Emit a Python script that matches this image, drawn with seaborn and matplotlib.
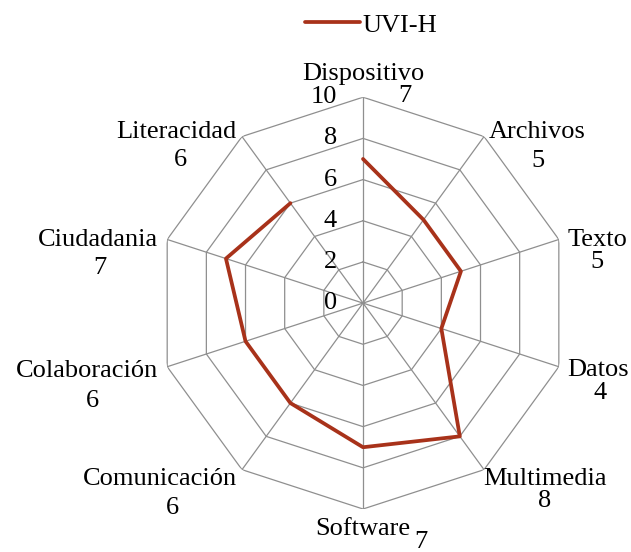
#!/usr/bin/env python3

import numpy as np
import pandas as pd
import matplotlib
matplotlib.use("Agg")
import matplotlib.pyplot as plt
import seaborn as sns

sns.set_theme(style="white")
plt.rcParams["font.family"] = ["Liberation Serif", "DejaVu Serif"]
plt.rcParams["text.color"] = "black"

categories = ["Dispositivo", "Archivos", "Texto", "Datos", "Multimedia",
              "Software", "Comunicación", "Colaboración", "Ciudadania", "Literacidad"]
uvi_h = [7, 5, 5, 4, 8, 7, 6, 6, 7, 6]
series_name = "UVI-H"
radial_ticks = [0, 2, 4, 6, 8, 10]

LINE_COLOR = "#a8321a"
GRID_COLOR = "#8f8f8f"
FS = 19

# pixel offsets of the category names from the outer vertex, and of values from names
name_off = [(0, 23), (53, 5), (39, -1), (39, -3), (61, -9),
            (0, -20), (-82, -9), (-80, -4), (-69, -1), (-66, 5)]
value_off = [(42, -22), (1, -29), (-1, -22), (2, -23), (0, -22),
             (58, -13), (12, -29), (5, -30), (2, -28), (4, -28)]


def main():
    n = len(categories)
    angles = np.linspace(0, 2 * np.pi, n, endpoint=False)

    fig = plt.figure(figsize=(6.31, 5.52), dpi=100)
    ax = fig.add_axes([0.2488, 0.0779, 0.653, 0.746], projection="polar")
    ax.set_theta_zero_location("N")
    ax.set_theta_direction(-1)
    ax.set_ylim(0, 10)
    ax.grid(False)
    ax.spines["polar"].set_visible(False)
    ax.set_xticks([])
    ax.set_yticks([])

    closed = np.append(angles, angles[0])
    # polygon grid
    for level in radial_ticks[1:]:
        ax.plot(closed, [level] * (n + 1), color=GRID_COLOR, lw=0.9, zorder=1)
    for a in angles:
        ax.plot([a, a], [0, radial_ticks[-1]], color=GRID_COLOR, lw=0.9, zorder=1)

    df = pd.DataFrame({"theta": closed, "value": uvi_h + [uvi_h[0]]})
    sns.lineplot(data=df, x="theta", y="value", sort=False, color=LINE_COLOR,
                 lw=2.7, ax=ax, label=series_name, zorder=3)
    ax.set_xlabel("")
    ax.set_ylabel("")
    ax.get_legend().remove()

    for level in radial_ticks:
        ax.annotate(str(level), (0, level), xytext=(-26, 0), textcoords="offset pixels",
                    ha="right", va="center", fontsize=FS)

    for i, (cat, val) in enumerate(zip(categories, uvi_h)):
        nx, ny = name_off[i]
        vx, vy = value_off[i]
        ax.annotate(cat, (angles[i], 10), xytext=(nx, ny), textcoords="offset pixels",
                    ha="center", va="center", fontsize=FS, annotation_clip=False)
        ax.annotate(str(val), (angles[i], 10), xytext=(nx + vx, ny + vy),
                    textcoords="offset pixels", ha="center", va="center",
                    fontsize=FS, annotation_clip=False)

    handles, labels = ax.get_legend_handles_labels()
    fig.legend(handles, labels, loc="center", bbox_to_anchor=(0.588, 0.955),
               frameon=False, fontsize=FS, handlelength=2.1, handletextpad=0.1)

    fig.savefig("out.png", dpi=100)
    plt.close(fig)


if __name__ == "__main__":
    main()
